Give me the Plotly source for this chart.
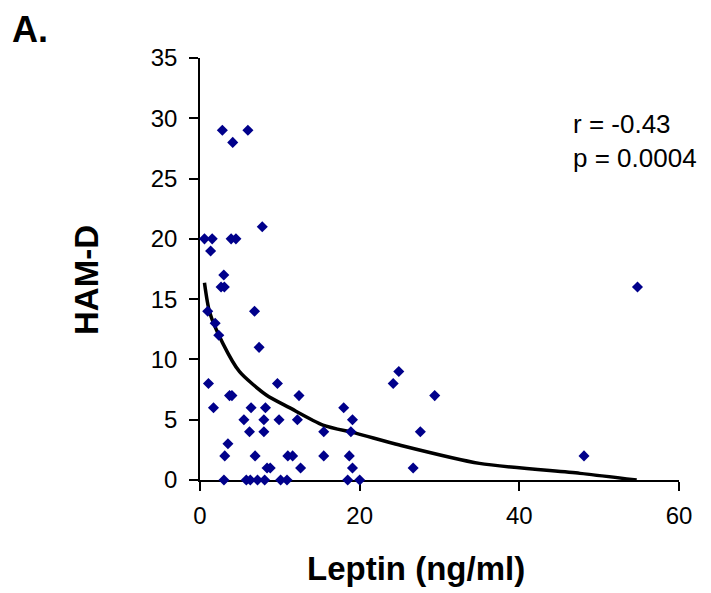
import plotly.graph_objects as go

# Scatter data: leptin (ng/ml) vs HAM-D score
leptin = [2.8, 6.0, 4.1, 7.8, 0.56, 1.53, 3.9, 4.5, 1.33, 2.98,
          2.64, 3.05, 54.8, 0.97, 6.83, 1.9, 2.35, 7.4, 24.9,
          1.06, 9.7, 24.2, 3.7, 4.0, 12.4, 29.4,
          1.69, 6.4, 8.2, 18.0, 5.5, 8.0, 9.9, 12.2, 19.1,
          6.2, 8.0, 15.5, 18.9, 27.6, 3.5,
          3.1, 6.9, 11.0, 11.6, 15.5, 18.7, 48.1,
          8.4, 8.8, 12.6, 19.1, 26.7,
          3.0, 5.8, 6.3, 7.2, 8.1, 10.1, 10.9, 18.5, 20.0]
hamd = [29, 29, 28, 21, 20, 20, 20, 20, 19, 17,
        16, 16, 16, 14, 14, 13, 12, 11, 9,
        8, 8, 8, 7, 7, 7, 7,
        6, 6, 6, 6, 5, 5, 5, 5, 5,
        4, 4, 4, 4, 4, 3,
        2, 2, 2, 2, 2, 2, 2,
        1, 1, 1, 1, 1,
        0, 0, 0, 0, 0, 0, 0, 0, 0]

# Trend line
trend_x = [0.56, 1.19, 2.86, 4.95, 8.3, 11.2, 15.4, 19.6, 25.0, 35.0, 47.6, 54.7]
trend_y = [16.36, 13.96, 11.33, 8.98, 7.05, 6.0, 4.56, 3.87, 2.9, 1.38, 0.55, 0.0]

x_ticks = [0, 20, 40, 60]
y_ticks = [0, 5, 10, 15, 20, 25, 30, 35]

FONT = "Arial, 'Liberation Sans', sans-serif"

# page offset of the figure (browser default body margin)
OFF = 8
PL, PT, PW, PH = 200, 58, 479, 422  # plot area in page pixels


def px(xp):
    return (xp - PL) / PW


def py(yp):
    return (PT + PH - yp) / PH


fig = go.Figure()
fig.add_trace(go.Scatter(x=trend_x, y=trend_y, mode="lines",
                         line=dict(color="black", width=3.5, shape="spline",
                                   smoothing=0.7),
                         cliponaxis=False, hoverinfo="skip"))
fig.add_trace(go.Scatter(x=leptin, y=hamd, mode="markers",
                         marker=dict(symbol="diamond", size=8.5, color="#00008B",
                                     line=dict(width=0)),
                         cliponaxis=False))

fig.update_layout(
    width=711 - OFF, height=593 - OFF,
    margin=dict(l=PL - OFF, r=711 - PL - PW, t=PT - OFF, b=593 - PT - PH),
    paper_bgcolor="white", plot_bgcolor="white",
    showlegend=False,
    font=dict(family=FONT, size=24, color="black"),
    xaxis=dict(range=[0, 60], tickvals=x_ticks, ticks="outside", ticklen=9,
               tickwidth=1.5, tickcolor="black", showline=True, linecolor="black",
               linewidth=1.5, showgrid=False, zeroline=False, layer="below traces",
               tickfont=dict(size=24), ticklabelstandoff=4),
    yaxis=dict(range=[0, 35], tickvals=y_ticks, ticks="outside", ticklen=9,
               tickwidth=1.5, tickcolor="black", showline=True, linecolor="black",
               linewidth=1.5, showgrid=False, zeroline=False, layer="below traces",
               tickfont=dict(size=24), ticklabelstandoff=7),
    annotations=[
        dict(text="<b>A.</b>", xref="paper", yref="paper", x=px(10), y=py(30),
             xanchor="left", yanchor="middle", showarrow=False, font=dict(size=36)),
        dict(text="<b>HAM-D</b>", xref="paper", yref="paper", x=px(86),
             y=py(280), textangle=-90, showarrow=False, font=dict(size=33),
             xanchor="center", yanchor="middle"),
        dict(text="<b>Leptin (ng/ml)</b>", xref="paper", yref="paper",
             x=px(415.5), y=py(568), showarrow=False, font=dict(size=33),
             xanchor="center", yanchor="middle"),
        dict(text="r = -0.43<br>p = 0.0004", xref="paper", yref="paper",
             x=px(571), y=py(141), showarrow=False, align="left",
             xanchor="left", yanchor="middle", font=dict(size=26)),
    ],
)

fig.write_html("out.html")
